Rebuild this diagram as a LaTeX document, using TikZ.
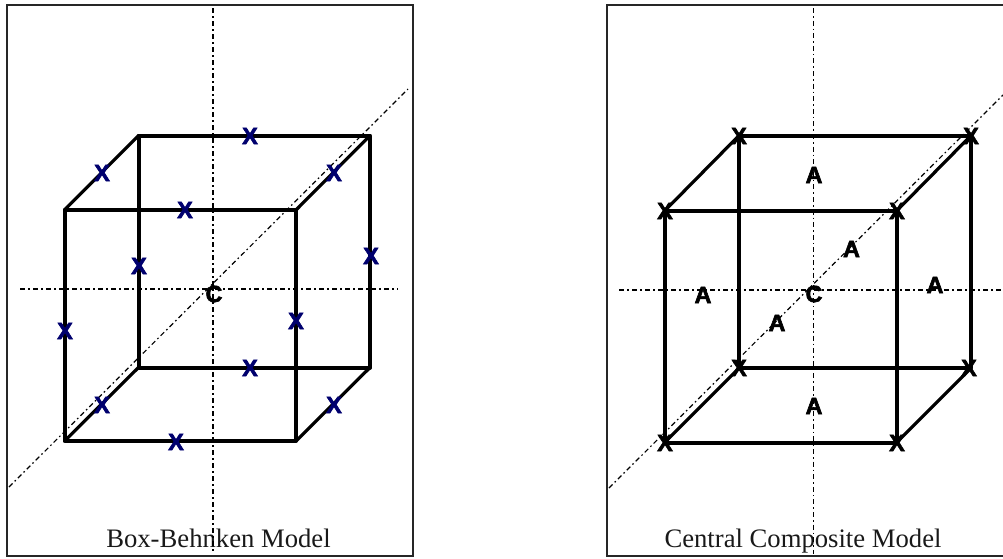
\documentclass[tikz,border=0pt]{standalone}
\usepackage{fontspec}
\setmainfont{Liberation Serif}
\newfontfamily\pointfont[BoldFeatures={FakeBold=2.6}]{Liberation Sans}
\usepackage{tikz}
\definecolor{markcolor}{RGB}{0, 0, 110}
\tikzset{
captionlabel/.style={
  font=\fontsize{20}{24}\selectfont,
  text=black!90,
  anchor=base,
  inner sep=0pt
},
pointlabel/.style={
  font=\fontsize{17.5}{18}\selectfont\pointfont\bfseries,
  inner sep=0pt
},
framebox/.style={
  draw=black!85,
  line width=1.5pt
},
frontedge/.style={
  line width=3pt,
  line cap=round,
  line join=round
},
sideedge/.style={
  line width=2.4pt,
  line cap=round
},
axisline/.style={
  line width=1.5pt,
  dash pattern=on 3.75pt off 2.25pt on 1.5pt off 2.25pt
},
thinaxis/.style={
  line width=0.9pt,
  dash pattern=on 3.75pt off 2.25pt on 1.2pt off 2.25pt
}
}
\begin{document}
\begin{tikzpicture}[x=0.75pt,y=-0.75pt]
    \useasboundingbox (0,0) rectangle (1003,558);

    % Left panel
    \coordinate (lftl) at (64.5,210);
    \coordinate (lftr) at (296,210);
    \coordinate (lfbl) at (64.5,441);
    \coordinate (lfbr) at (296,441);
    \coordinate (lbtl) at (138.5,135.5);
    \coordinate (lbtr) at (370,135.5);
    \coordinate (lbbl) at (138.5,367.5);
    \coordinate (lbbr) at (370,367.5);
    \coordinate (lframea) at (7,4.5);
    \coordinate (lframeb) at (412.5,556);
    \coordinate (lvtop) at (213,8);
    \coordinate (lvbot) at (213,552);
    \coordinate (lhleft) at (20,289);
    \coordinate (lhright) at (398,289);
    \coordinate (ldlow) at (9,487);
    \coordinate (ldup) at (408,89);

    \draw[framebox] (lframea) rectangle (lframeb);
    \node[captionlabel] (lcaption) at (218.5,547.5) {Box-Behnken Model};
    \draw[axisline] (lvtop) -- (lvbot);
    \draw[axisline] (lhleft) -- (lhright);
    \draw[thinaxis] (ldlow) -- (ldup);
    \draw[frontedge] (lftl) -- (lftr) -- (lfbr) -- (lfbl) -- cycle;
    \draw[frontedge] (lbtl) -- (lbtr) -- (lbbr) -- (lbbl) -- cycle;
    \draw[sideedge] (lftl) -- (lbtl);
    \draw[sideedge] (lftr) -- (lbtr);
    \draw[sideedge] (lfbl) -- (lbbl);
    \draw[sideedge] (lfbr) -- (lbbr);

    \node[pointlabel, text=markcolor] (lx1) at (250,136) {X};
    \node[pointlabel, text=markcolor] (lx2) at (102,173) {X};
    \node[pointlabel, text=markcolor] (lx3) at (334,173) {X};
    \node[pointlabel, text=markcolor] (lx4) at (185,210) {X};
    \node[pointlabel, text=markcolor] (lx5) at (139,266) {X};
    \node[pointlabel, text=markcolor] (lx6) at (371,256) {X};
    \node[pointlabel, text=markcolor] (lx7) at (65,331) {X};
    \node[pointlabel, text=markcolor] (lx8) at (296,321) {X};
    \node[pointlabel, text=markcolor] (lx9) at (250,368) {X};
    \node[pointlabel, text=markcolor] (lx10) at (102,405) {X};
    \node[pointlabel, text=markcolor] (lx11) at (334,405) {X};
    \node[pointlabel, text=markcolor] (lx12) at (176,442) {X};
    \node[pointlabel] (lc) at (214,294) {C};

    % Right panel
    \coordinate (rftl) at (664.5,211);
    \coordinate (rftr) at (896.5,211);
    \coordinate (rfbl) at (664.5,442.5);
    \coordinate (rfbr) at (896.5,442.5);
    \coordinate (rbtl) at (739,135.5);
    \coordinate (rbtr) at (971,135.5);
    \coordinate (rbbl) at (739,368);
    \coordinate (rbbr) at (971,368);
    \coordinate (rframea) at (607,4.5);
    \coordinate (rframeb) at (1010,556);
    \coordinate (rvtop) at (813.5,8);
    \coordinate (rvbot) at (813.5,554);
    \coordinate (rhleft) at (619,290);
    \coordinate (rhright) at (1001,290);
    \coordinate (rdlow) at (609,488);
    \coordinate (rdup) at (1003,95);

    \draw[framebox] (rframea) rectangle (rframeb);
    \node[captionlabel] (rcaption) at (803,547.5) {Central Composite Model};
    \draw[thinaxis] (rvtop) -- (rvbot);
    \draw[axisline] (rhleft) -- (rhright);
    \draw[thinaxis] (rdlow) -- (rdup);
    \draw[frontedge] (rftl) -- (rftr) -- (rfbr) -- (rfbl) -- cycle;
    \draw[frontedge] (rbtl) -- (rbtr) -- (rbbr) -- (rbbl) -- cycle;
    \draw[sideedge] (rftl) -- (rbtl);
    \draw[sideedge] (rftr) -- (rbtr);
    \draw[sideedge] (rfbl) -- (rbbl);
    \draw[sideedge] (rfbr) -- (rbbr);

    \node[pointlabel] (rx1) at (739,136) {X};
    \node[pointlabel] (rx2) at (971,136) {X};
    \node[pointlabel] (rx3) at (665,211) {X};
    \node[pointlabel] (rx4) at (897,211) {X};
    \node[pointlabel] (rx5) at (739,368) {X};
    \node[pointlabel] (rx6) at (969,368) {X};
    \node[pointlabel] (rx7) at (665,443) {X};
    \node[pointlabel] (rx8) at (897,443) {X};
    \node[pointlabel] (ra1) at (814,175) {A};
    \node[pointlabel] (ra2) at (851.5,249) {A};
    \node[pointlabel] (ra3) at (703,295) {A};
    \node[pointlabel] (ra4) at (777,323) {A};
    \node[pointlabel] (ra5) at (935,285) {A};
    \node[pointlabel] (ra6) at (814,406) {A};
    \node[pointlabel] (rc) at (814,294) {C};

  \end{tikzpicture}
\end{document}
